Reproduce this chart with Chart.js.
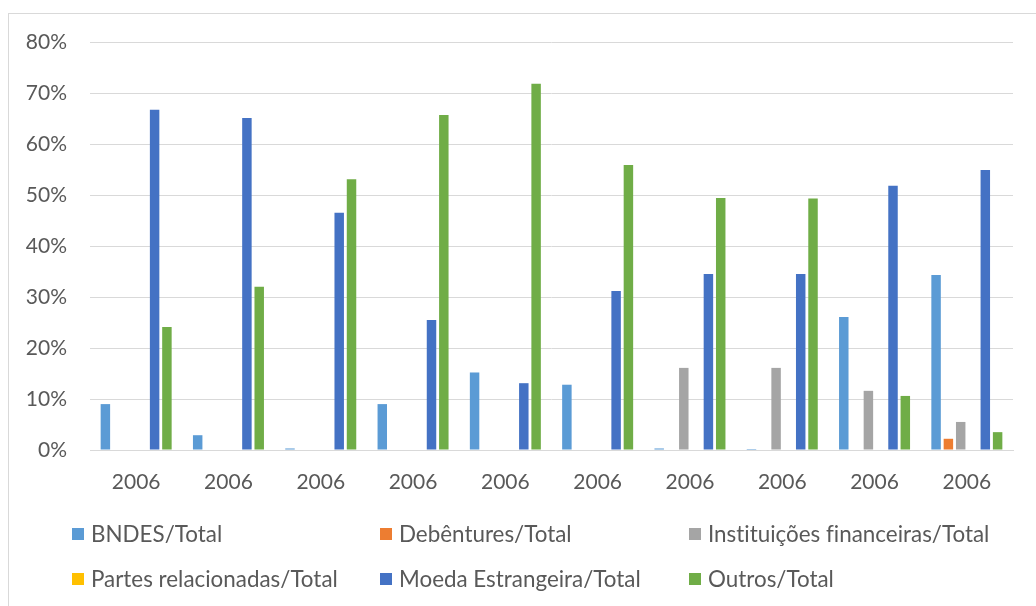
<!DOCTYPE html>
<html>
<head>
<meta charset="utf-8">
<title>Endividamento por fonte</title>
<script src="https://cdn.jsdelivr.net/npm/chart.js@4/dist/chart.umd.min.js"></script>
<style>
  html, body { margin: 0; padding: 0; background: #fff; overflow: hidden; }
  body { width: 1036px; height: 606px; position: relative; font-family: Lato, sans-serif; }
  .frame { position: absolute; left: 8px; top: 13px; width: 1100px; height: 700px; border: 1px solid #D9D9D9; }
  #wrap { position: absolute; left: 0; top: 0; width: 1036px; height: 500px; }
  #legend { position: absolute; left: 0; top: 0; width: 1036px; height: 606px; pointer-events: none; }
  .item { position: absolute; display: flex; align-items: center; color: #595959; font-size: 22.4px; line-height: 24px; white-space: nowrap; font-variant-ligatures: none; }
  .item .box { width: 12px; height: 12px; margin-right: 7px; flex: none; }
</style>
</head>
<body>
<div class="frame"></div>
<div id="wrap"><canvas id="barChart"></canvas></div>
<div id="legend"></div>
<script>
// categories and shares of total debt (%)
const categories = ['2006', '2006', '2006', '2006', '2006', '2006', '2006', '2006', '2006', '2006'];
const bndes        = [9.0, 2.9, 0.3, 9.0, 15.2, 12.8, 0.3, 0.2, 26.1, 34.3];
const debentures   = [0, 0, 0, 0, 0, 0, 0, 0, 0, 2.2];
const instituicoes = [0, 0, 0, 0, 0, 0, 16.1, 16.1, 11.6, 5.5];
const partes       = [0, 0, 0, 0, 0, 0, 0, 0, 0, 0];
const moeda        = [66.7, 65.1, 46.5, 25.5, 13.1, 31.2, 34.5, 34.5, 51.8, 54.9];
const outros       = [24.1, 32.0, 53.1, 65.7, 71.8, 55.9, 49.4, 49.3, 10.6, 3.5];
const yTicks = [0, 10, 20, 30, 40, 50, 60, 70, 80];

// legend slots: [left, centre y]
const legendSlots = [[72, 534], [380, 534], [689, 534], [72, 579], [380, 579], [689, 579]];

Chart.defaults.font.family = 'Lato, sans-serif';
Chart.defaults.font.size = 21;
Chart.defaults.color = '#595959';

const htmlLegend = {
  id: 'htmlLegend',
  afterUpdate(chart) {
    const container = document.getElementById('legend');
    container.innerHTML = '';
    const items = chart.options.plugins.legend.labels.generateLabels(chart);
    items.forEach((item, i) => {
      const slot = legendSlots[i];
      const el = document.createElement('div');
      el.className = 'item';
      el.style.left = slot[0] + 'px';
      el.style.top = (slot[1] - 12) + 'px';
      const box = document.createElement('span');
      box.className = 'box';
      box.style.background = item.fillStyle;
      const label = document.createElement('span');
      label.textContent = item.text;
      el.appendChild(box);
      el.appendChild(label);
      container.appendChild(el);
    });
  }
};

function series(label, data, color) {
  return {
    label: label,
    data: data,
    backgroundColor: color,
    borderWidth: 0,
    categoryPercentage: 0.8,
    barPercentage: 0.77
  };
}

new Chart(document.getElementById('barChart'), {
  type: 'bar',
  data: {
    labels: categories,
    datasets: [
      series('BNDES/Total', bndes, '#5B9BD5'),
      series('Debêntures/Total', debentures, '#ED7D31'),
      series('Instituições financeiras/Total', instituicoes, '#A5A5A5'),
      series('Partes relacionadas/Total', partes, '#FFC000'),
      series('Moeda Estrangeira/Total', moeda, '#4472C4'),
      series('Outros/Total', outros, '#70AD47')
    ]
  },
  options: {
    responsive: true,
    maintainAspectRatio: false,
    animation: false,
    layout: { padding: { top: 42, right: 23, left: 0, bottom: 0 } },
    plugins: {
      legend: { display: false },
      tooltip: { enabled: false }
    },
    scales: {
      x: {
        grid: { display: false, drawTicks: false },
        border: { color: '#D9D9D9', width: 1 },
        ticks: { padding: 20, maxRotation: 0, autoSkip: false },
        afterFit(scale) { scale.height = 50; }
      },
      y: {
        min: 0,
        max: 80,
        afterBuildTicks(scale) { scale.ticks = yTicks.map(v => ({ value: v })); },
        grid: { color: '#D9D9D9', lineWidth: 1, drawTicks: false },
        border: { display: false },
        ticks: { padding: 23, callback: v => v + '%' },
        afterFit(scale) { scale.width = 90; }
      }
    }
  },
  plugins: [htmlLegend]
});
</script>
</body>
</html>
